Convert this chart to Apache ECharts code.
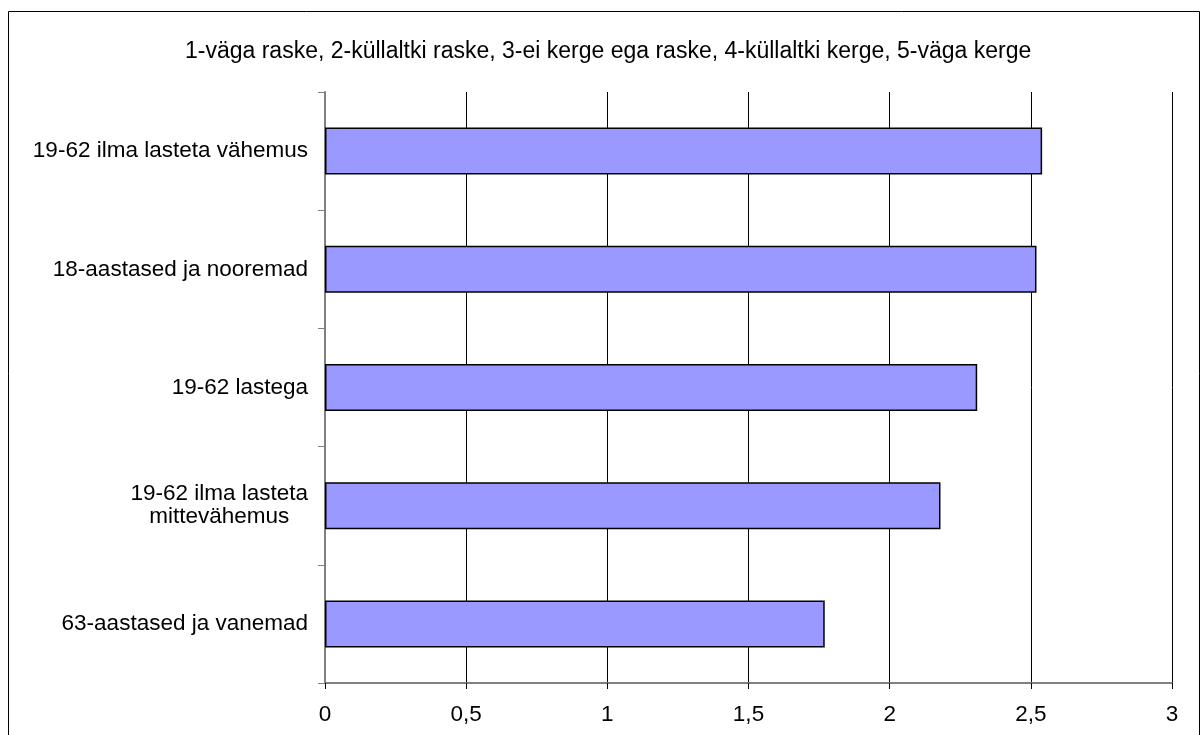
<!DOCTYPE html>
<html>
<head>
<meta charset="utf-8">
<script src="https://cdn.jsdelivr.net/npm/echarts@6/dist/echarts.min.js"></script>
<style>
html,body{margin:0;padding:0;background:#fff;}
#c{width:1202px;height:735px;}
</style>
</head>
<body>
<div id="c"></div>
<script>
const titleText = '1-väga raske, 2-küllaltki raske, 3-ei kerge ega raske, 4-küllaltki kerge, 5-väga kerge';
const categories = ['19-62 ilma lasteta vähemus', '18-aastased ja nooremad', '19-62 lastega', '19-62 ilma lasteta\nmittevähemus', '63-aastased ja vanemad'];
const values = [2.54, 2.52, 2.31, 2.18, 1.77];
const xTicks = [0, 0.5, 1, 1.5, 2, 2.5, 3];

const chart = echarts.init(document.getElementById('c'));
const font = 'Liberation Sans, Arial, sans-serif';
const fs = 22.5;
chart.setOption({
  animation: false,
  backgroundColor: '#fff',
  title: {
    text: titleText,
    left: 180,
    top: 35,
    textStyle: {fontFamily: font, fontSize: 23, fontWeight: 'normal', color: '#000'}
  },
  graphic: [{
    type: 'rect',
    shape: {x: 8.5, y: 11.5, width: 1191, height: 740},
    style: {fill: 'none', stroke: '#000', lineWidth: 1},
    silent: true
  }],
  grid: {left: 325, right: 30, top: 92, bottom: 52, containLabel: false},
  xAxis: {
    type: 'value',
    min: 0, max: 3, interval: 0.5,
    axisLine: {show: true, lineStyle: {color: '#808080', width: 2}},
    axisTick: {show: true, length: 6, lineStyle: {color: '#000'}},
    splitLine: {show: true, lineStyle: {color: '#000', width: 1}},
    axisLabel: {
      fontFamily: font, fontSize: fs, color: '#000', margin: 20,
      formatter: v => { const t = xTicks.find(x => Math.abs(x - v) < 1e-9); return t === undefined ? '' : String(t).replace('.', ','); }
    }
  },
  yAxis: {
    type: 'category',
    inverse: true,
    data: categories,
    axisLine: {show: true, lineStyle: {color: '#808080', width: 2}},
    axisTick: {show: true, length: 7, lineStyle: {color: '#808080'}},
    axisLabel: {
      fontFamily: font, fontSize: fs, color: '#000', margin: 17, lineHeight: 23,
      formatter: v => v.indexOf('\n') >= 0 ? v.split('\n').map(l => '{c|' + l + '}').join('\n') : v,
      rich: {c: {align: 'center', fontFamily: font, fontSize: fs, color: '#000', lineHeight: 23}}
    }
  },
  series: [{
    type: 'bar',
    data: values,
    barWidth: 47,
    itemStyle: {color: '#9999FF', borderColor: '#000', borderWidth: 1.5}
  }]
});
</script>
</body>
</html>
